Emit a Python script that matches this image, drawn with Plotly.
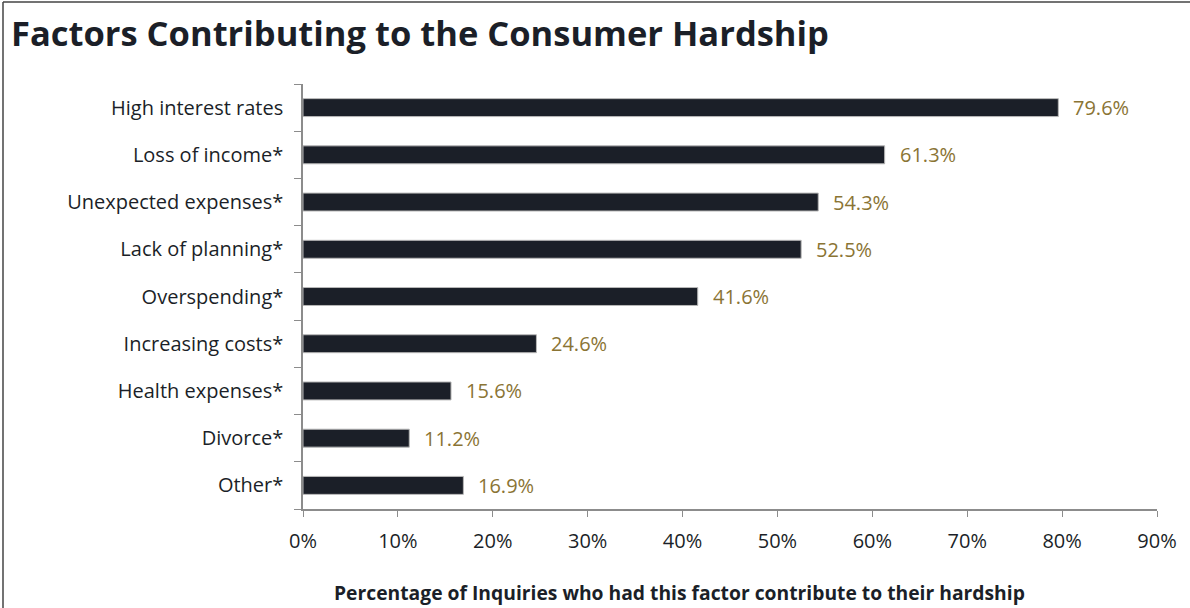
import plotly.graph_objects as go

categories = [
    "High interest rates",
    "Loss of income*",
    "Unexpected expenses*",
    "Lack of planning*",
    "Overspending*",
    "Increasing costs*",
    "Health expenses*",
    "Divorce*",
    "Other*",
]
values = [79.6, 61.3, 54.3, 52.5, 41.6, 24.6, 15.6, 11.2, 16.9]
x_ticks = [0, 10, 20, 30, 40, 50, 60, 70, 80, 90]
x_tick_labels = [f"{t}%" for t in x_ticks]

W, H = 1190, 608
L, R, T, B = 303, 33, 84, 99
FONT = "Open Sans"
DARK = "#1b1f28"
GOLD = "#8a7434"

fig = go.Figure()
fig.add_trace(go.Bar(
    y=categories,
    x=values,
    orientation="h",
    width=0.38,
    marker=dict(color=DARK, line=dict(color="#b8b8b8", width=1)),
    hoverinfo="x+y",
))

# value labels placed just past the end of each bar
for cat, v in zip(categories, values):
    fig.add_annotation(
        x=v, y=cat, xref="x", yref="y",
        text=f"{v:.1f}%", showarrow=False,
        xanchor="left", xshift=13,
        font=dict(family=FONT, size=20, color=GOLD),
    )

# x-axis title, centred on the whole chart
fig.add_annotation(
    x=(679.5 - L) / (W - L - R), y=-(592 - (H - B)) / (H - T - B),
    xref="paper", yref="paper",
    text="<b>Percentage of Inquiries who had this factor contribute to their hardship</b>",
    showarrow=False, xanchor="center", yanchor="middle",
    font=dict(family=FONT, size=19.3, color=DARK),
)

# chart title
fig.add_annotation(
    x=(9 - L) / (W - L - R), y=1 + (T - 33) / (H - T - B),
    xref="paper", yref="paper",
    text="<b>Factors Contributing to the Consumer Hardship</b>",
    showarrow=False, xanchor="left", yanchor="middle",
    font=dict(family=FONT, size=34.5, color=DARK),
)

# frame lines along the top and left edges
pw, ph = W - L - R, H - T - B
def px(x):
    return (x - L) / pw
def py(y):
    return 1 - (y - T) / ph
fig.add_shape(type="line", xref="paper", yref="paper",
              x0=px(3), x1=px(W + 5), y0=py(2), y1=py(2),
              line=dict(color="#444444", width=1.5))
fig.add_shape(type="line", xref="paper", yref="paper",
              x0=px(3), x1=px(3), y0=py(2), y1=py(H + 5),
              line=dict(color="#444444", width=1.5))

fig.update_layout(
    width=W, height=H,
    margin=dict(l=L, r=R, t=T, b=B),
    paper_bgcolor="white",
    plot_bgcolor="white",
    showlegend=False,
    bargap=0.62,
)
fig.update_xaxes(
    range=[0, 90],
    tickvals=x_ticks,
    ticktext=x_tick_labels,
    showgrid=False,
    zeroline=False,
    showline=True,
    linecolor="#8c8c8c",
    linewidth=1.5,
    ticks="outside",
    ticklen=6,
    tickcolor="#8c8c8c",
    tickfont=dict(family=FONT, size=20, color=DARK),
    ticklabelstandoff=7,
    fixedrange=True,
)
fig.update_yaxes(
    categoryorder="array",
    categoryarray=categories[::-1],
    autorange=False,
    range=[-0.5, len(categories) - 0.5],
    showgrid=False,
    showline=True,
    linecolor="#8c8c8c",
    linewidth=1.5,
    ticks="outside",
    tickson="boundaries",
    ticklen=7,
    tickcolor="#8c8c8c",
    tickfont=dict(family=FONT, size=20, color=DARK),
    ticklabelstandoff=14,
    fixedrange=True,
)

fig.write_html("out.html")
